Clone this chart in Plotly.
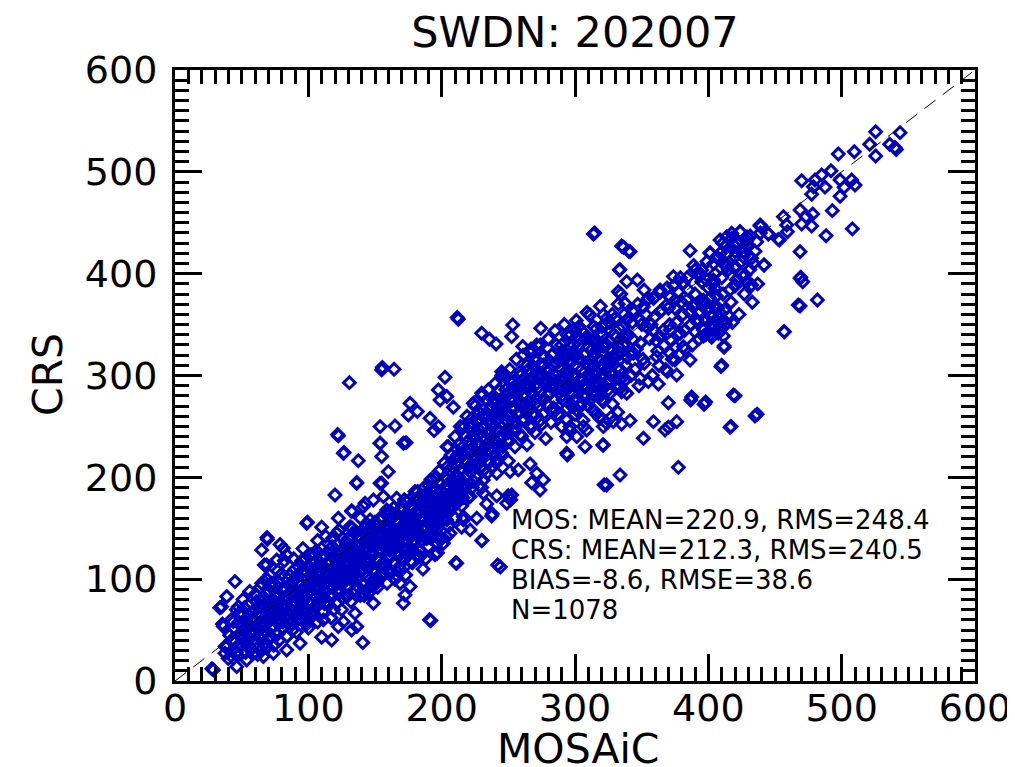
import plotly.graph_objects as go

# ---------------- data (MOSAiC, CRS) ----------------
low_edge = [(28.8,10.9),(27.7,12),(45,97.6),(35,73),(38.8,82.9),(47.5,73),(36.3,53.4),(43.8,58.3),(50,53.4),
            (38.8,33.8),(42.5,40.3),(37.5,27.2),(43.8,22.3),(46.3,14.1),(53.8,37.1),(58.8,27.2),(62.5,33.8),
            (66.3,24),(53.8,20.7),(69.3,139.2),(81.3,130.3),(83.8,123.8),(76.3,118.9),(68.8,114),(65,128.7),
            (98.8,154.9),(110,151),(120,182.7),(132.5,167.3),(136.3,194.2),(137.5,216.4),(126.3,223.6),
            (110,42.9),(117.5,40.3),(122.5,53.4),(126.3,58.3),(132.5,50.1),(93.8,37.1),(83.8,30.5),(73.8,27.2),
            (68.8,33.8),(83.8,43.6),(98.8,60),(103.8,66.5),(91.3,66.5),(111.3,60),(140.8,37.7),(136.3,53.4),
            (135,66.5),(148.8,76.3),(99.3,156),(69,141),(78.8,134),(67,114),(33.6,72),(35.6,56),(37.5,34)]

core_a = [(40,22),(41,45),(42,60),(43,30),(44,52),(45,38),(46,70),(47,25),(48,58),(49,44),
          (50,35),(50,66),(51,80),(52,48),(53,28),(54,62),(55,40),(55,75),(56,55),(57,32),
          (58,68),(59,47),(60,85),(60,58),(61,38),(62,72),(63,50),(64,92),(64,30),(65,64),
          (66,45),(67,80),(68,56),(69,100),(70,40),(70,70),(71,88),(72,52),(73,65),(74,35),
          (75,78),(75,95),(76,58),(77,46),(78,84),(79,68),(80,105),(80,52),(81,74),(82,90),
          (83,62),(84,44),(85,82),(85,100),(86,70),(87,56),(88,92),(89,78),(90,110),(90,64),
          (91,48),(92,86),(93,98),(94,72),(95,60),(95,118),(96,84),(97,104),(98,68),(99,92),
          (100,52),(100,78),(101,112),(102,96),(103,64),(104,86),(105,124),(105,100),(106,74),(107,58),
          (108,92),(109,108),(110,82),(110,130),(111,68),(112,100),(113,88),(114,116),(115,74),(115,104),
          (116,94),(117,62),(118,122),(119,84),(120,108),(120,96),(121,76),(122,134),(123,100),(124,88)]

core_b = [(125,112),(125,70),(126,96),(127,124),(128,84),(129,106),(130,140),(130,92),(131,116),(132,78),
          (133,102),(134,128),(135,90),(135,112),(136,146),(137,100),(138,120),(139,84),(140,134),(140,108),
          (141,96),(142,150),(143,118),(144,102),(145,130),(145,86),(146,112),(147,140),(148,98),(149,124),
          (150,108),(150,156),(151,132),(152,92),(153,118),(154,144),(155,104),(155,128),(156,160),(157,112),
          (158,138),(159,96),(160,150),(160,122),(161,108),(162,166),(163,134),(164,116),(165,146),(165,100),
          (166,126),(167,158),(168,112),(169,140),(170,170),(170,130),(171,118),(172,150),(173,104),(174,138),
          (175,162),(175,124),(176,178),(177,144),(178,116),(179,156),(180,134),(180,186),(181,166),(182,122),
          (183,146),(184,174),(185,138),(185,158),(186,110),(187,190),(188,150),(189,168),(190,132),(190,182),
          (191,156),(192,198),(193,142),(194,174),(195,124),(195,162),(196,188),(197,150),(198,206),(199,172)]

core_c = [(200,140),(200,186),(201,160),(202,214),(203,176),(204,198),(205,152),(205,230),(206,190),(207,170),
          (208,210),(209,182),(210,240),(210,160),(211,200),(212,222),(213,186),(214,250),(215,172),(215,208),
          (216,230),(217,194),(218,216),(219,260),(220,180),(220,236),(221,206),(222,250),(223,190),(224,222),
          (225,270),(225,238),(226,200),(227,256),(228,214),(229,232),(230,190),(230,280),(231,248),(232,220),
          (233,262),(234,204),(235,242),(235,286),(236,226),(237,268),(238,210),(239,250),(240,292),(240,232),
          (241,276),(242,218),(243,258),(244,240),(245,300),(245,224),(246,270),(247,252),(248,286),(249,236),
          (250,262),(250,216),(251,306),(252,278),(253,246),(254,294),(255,230),(255,268),(256,316),(257,252),
          (258,284),(259,300),(260,240),(260,272),(261,320),(262,256),(263,290),(264,232),(265,306),(265,270),
          (266,250),(267,326),(268,282),(269,298),(270,262),(270,244),(271,314),(272,288),(273,270),(274,330),
          (275,252),(275,300),(276,276),(277,318),(278,238),(279,292)]

core_d = [(280,270),(280,336),(281,306),(282,254),(283,288),(284,322),(285,276),(285,344),(286,300),(287,262),
          (288,314),(289,290),(290,330),(290,250),(291,276),(292,350),(293,304),(294,268),(295,320),(295,288),
          (296,246),(297,340),(298,300),(299,276),(300,318),(300,262),(301,354),(302,290),(303,330),(304,272),
          (305,306),(305,344),(306,256),(307,320),(308,290),(309,362),(310,300),(310,270),(311,336),(312,314),
          (313,282),(314,348),(315,300),(316,262),(317,326),(318,292),(319,368),(320,310),(320,276),(321,340),
          (322,300),(323,254),(324,330),(325,286),(326,352),(327,312),(328,272),(329,340),(330,296),(331,322),
          (332,264),(333,346),(334,306),(335,284),(336,330),(337,360),(338,296),(339,318)]

core_e = [(340,340),(342,300),(344,362),(346,326),(348,290),(350,350),(352,312),(354,374),(356,336),(358,300),
          (360,358),(362,324),(364,382),(366,344),(368,306),(370,366),(372,334),(374,388),(376,352),(378,320),
          (380,372),(382,344),(384,396),(386,362),(388,330),(390,380),(392,352),(394,400),(396,368),(398,340),
          (400,386),(402,358),(404,410),(406,378),(408,346),(410,396),(412,364),(414,420),(416,384),(418,352)]

core_f = [(44,40),(46,28),(48,66),(50,45),(52,72),(54,34),(56,88),(57,60),(59,40),(61,78),(62,26),(63,56),
          (65,96),(66,74),(67,36),(68,86),(70,58),(71,104),(72,44),(73,92),(74,76),(76,64),(77,108),(78,40),
          (79,96),(81,58),(82,118),(83,80),(84,66),(86,104),(87,88),(88,50),(89,120),(91,76),(92,60),(93,112),
          (94,94),(96,130),(97,72),(98,108),(99,56),(101,88),(102,124),(103,100),(104,70),(106,112),(107,138),
          (108,80),(109,96),(111,120),(112,76),(113,142),(114,104),(116,84),(117,126),(118,108),(119,70),
          (121,114),(122,96),(123,148),(124,120),(126,82),(127,104),(128,136),(129,92),(131,126),(132,104),
          (133,150),(134,116),(136,94),(137,132),(138,108),(139,160),(141,122),(142,84),(143,138),(144,116),
          (146,100),(147,126),(148,152),(149,110),(151,120),(152,144),(153,100),(154,128),(156,116),(157,150),
          (158,130),(159,108),(161,140),(162,122),(163,160),(164,132),(166,104),(167,146),(168,126),(169,168),
          (171,136),(172,112),(173,156),(174,130),(176,150),(177,118),(178,170),(179,138),(181,150),(182,180),
          (183,128),(184,160),(186,142),(187,170),(188,120),(189,156),(191,178),(192,140),(193,190),(194,158),
          (196,136),(197,176),(198,160),(199,194)]

core_g = [(202,168),(204,230),(206,206),(208,186),(211,220),(213,196),(214,234),(216,180),(218,240),(219,202),
          (221,226),(223,258),(224,196),(226,232),(228,264),(229,210),(231,240),(233,224),(234,276),(236,246),
          (238,230),(239,262),(241,214),(243,286),(244,262),(246,240),(248,300),(249,256),(251,236),(253,276),
          (254,254),(256,290),(258,264),(259,242),(261,296),(263,272),(264,310),(266,288),(268,262),(269,316),
          (271,278),(273,300),(274,256),(276,320),(278,296),(279,272),(281,290),(283,310),(284,268),(286,330),
          (288,282),(289,306),(291,320),(293,288),(294,340),(296,304),(298,282),(299,330),(301,300),(303,348),
          (304,316),(306,290),(308,336),(309,280),(311,310),(313,326),(314,290),(316,346),(318,316),(319,280),
          (321,330),(323,350),(324,306),(326,296),(328,360),(329,318),(331,338),(333,290),(334,322),(336,348),
          (338,310),(339,338)]

core_h = [(341,322),(343,352),(345,306),(347,370),(349,332),(351,316),(353,360),(355,294),(357,350),(359,376),
          (361,334),(363,310),(365,364),(367,330),(369,386),(371,350),(373,316),(375,374),(377,340),(379,396),
          (381,360),(383,326),(385,384),(387,350),(389,408),(391,370),(393,336),(395,392),(397,356),(399,412),
          (401,376),(403,346),(405,400),(407,366),(409,420),(411,380),(413,350),(415,404),(417,372),(419,428),
          (421,394),(423,360),(425,412),(427,380),(429,436),(431,404),(433,372),(435,422),(437,390),(439,440)]

core_i = [(52,44),(54,57),(57,49),(58,61),(61,52),(62,66),(65,56),(66,71),(69,60),(70,78),(72,63),(75,71),
          (76,86),(78,66),(81,80),(82,92),(84,74),(87,86),(88,98),(91,82),(92,104),(95,90),(96,78),(99,100),
          (100,112),(103,94),(104,116),(107,104),(108,90),(111,110),(112,124),(114,98),(116,118),(118,132),
          (120,112),(122,102),(124,126),(126,140),(128,116),(130,106),(132,132),(134,146),(136,122),(138,112),
          (140,140),(142,128),(144,154),(146,120),(148,136),(150,146),(152,128),(154,160),(156,138),(158,150),
          (160,132),(162,146),(164,170),(166,140),(168,156),(170,146),(172,178),(174,160),(176,142),(178,168),
          (180,152),(182,186),(184,166),(186,150),(188,176),(190,162),(192,188),(194,168),(196,200),(198,178),
          (200,164),(202,190),(204,210),(206,176),(208,198),(210,186),(212,212),(214,198),(216,222),(218,192),
          (220,210),(222,232),(224,208),(226,218),(228,242),(230,226),(232,208),(234,232),(236,256),(238,240),
          (240,222),(242,246),(244,270),(246,230),(248,256),(250,244),(252,268),(254,284),(256,246),(258,272),
          (260,256),(262,282),(264,264),(266,296),(268,250),(270,272),(272,298),(274,284),(276,262),(278,306),
          (280,282),(282,298),(284,264),(286,312),(288,296),(290,280),(292,318),(294,300),(296,272),(298,322),
          (300,290),(302,308),(304,336),(306,280),(308,312),(310,328),(312,298),(314,336),(316,282),(318,316),
          (320,348),(322,290),(324,314),(326,334),(328,302),(330,356),(332,320),(334,296),(336,338)]

core_j = [(58,50),(60,70),(63,44),(64,80),(67,62),(68,48),(71,66),(72,96),(74,54),(76,82),(79,58),(80,90),
          (82,70),(85,60),(86,94),(88,74),(90,100),(93,80),(94,66),(97,88),(98,120),(101,76),(102,104),(105,90),
          (106,128),(109,86),(110,114),(113,96),(114,78),(117,100),(118,140),(121,88),(122,124),(125,104),
          (126,130),(129,114),(130,84),(133,122),(134,98),(137,142),(138,126),(141,110),(142,136),(145,120),
          (146,148),(149,134),(150,98),(153,140),(154,112),(157,132),(158,164),(161,128),(162,106),(165,138),
          (166,164),(169,124),(170,152),(173,140),(174,176),(177,160),(178,128),(181,144),(182,168),(185,150),
          (186,176),(189,140),(190,192),(193,170),(194,150),(197,184),(198,166),(201,180),(203,200),(205,170),
          (207,222),(209,196),(211,178),(213,232),(215,196),(217,250),(219,214),(221,194),(223,240),(225,212),
          (227,248),(229,222),(231,260),(233,238),(235,214),(237,252),(239,276),(241,256),(243,230),(245,264),
          (247,244),(249,280)]

mid_scatter = [(212.5,355.2),(230,341.5),(235.8,335.6),(240.8,331),(253.3,349.7),(252.5,338.2),(260.8,328.4),
               (266.8,321.8),(274.3,346.4),(271.3,330),(300,344.1),(310.8,359.5),(296.3,329),(291.3,314.6),
               (282.5,320.2),(276.3,310.4),(281.3,298.9),(321.3,359.5),(318.8,341.5),(321.3,328.4),(130.8,293),
               (155,305.5),(164.3,306.1),(202.5,298.3),(176.3,272.7),(181.8,264.6),(175,261.3),(197.5,285.8),
               (198.8,276),(203.8,279.3),(208.8,268.8),(191.3,258),(197.5,249.8),(194.3,245.9),(153.8,249.8),
               (165,250.5),(153.8,233.5),(173.3,234.1),(122.5,240.7),(126.8,224.3),(136.3,194.9),
               (155,220.4),(155,194.2),(160,205.6),(148.8,177.8),(141.3,171.3),(132.5,166.4),(122.5,159.8),
               (131.3,151.6),(230,282.6),(223.8,272.7),(231.3,266.2),(227.5,256.4),(238.8,272.7),(242.5,262.9),
               (246.3,274.4),(245,303.8),(251.3,294),(258.8,303.8),(263.8,292.4),(253.3,287.5),(268.8,308.7),
               (276.3,292.4),(281.3,282.6),(288.8,287.5),(296.3,292.4),(306.3,295.6),(313.8,302.2),(318.8,285.8),
               (311.3,276),(301.3,266.2),(296.3,249.8),(306.3,249.8),(313.8,266.2),(318.8,259.6),(320.8,231.8),
               (294.3,222),(321.8,192.6),(266.3,213.2),(271.3,204),(276.3,197.5),(267.5,194.8),(273.8,187.6),
               (252.5,182.7),(248.8,174.5),(237.5,162.1),(230,137.9),(216.3,223.6),(221.3,210.6),(212.5,200.7),
               (231.3,197.5),(241.3,204),(251.3,205.7),(257.5,207.3),(203.8,177.8),(211.3,174.5),(221.3,181.1),
               (231.3,184.4),(241.3,181.8),(233.8,173.9),(193.8,164.7),(201.3,158.2),(191.3,145.1),(198.8,138.5),
               (206.3,145.1),(216.3,158.2),(221.3,148.4),(226.3,159.8),(173.8,164.7),(181.3,154.9),(173.8,145.1),
               (179.3,138.5),(166.3,141.2),(161.3,151.6),(146.3,158.2),(141.3,145.1),(131.3,138.5),(121.3,145.1),
               (156.3,138.5),(153.8,233.4),(171.3,233.4),(153.8,194.2),(156.3,181.1),(142.5,174.5),(211.3,115.6),
               (191.8,59.3),(171.3,76.3),(172.5,84.5),(168.8,96),(176.3,92.7),(151.3,96),(156.3,105.8),(146.3,92.7),
               (141.3,86.1),(161.3,109.1),(171.3,118.9),(176.3,127.1),(183.8,122.1),(196.3,125.4),(201.3,135.2),
               (203.8,141.8),(215,151),(216.3,161.4),(196.3,154.9),(203.8,158.2),(208.8,171.3),(201.3,177.8),
               (211.3,181.1),(216.3,190.9),(171.3,161.4),(176.3,171.2),(166.3,179.4),(158.8,168),(186.3,181.1),
               (148.8,148.3),(156.3,138.5),(143.8,132),(163.8,138.5),(171.3,145.1),(181.3,151.6),
               (190.9,60.1),(244,112),(242,114),(210.5,116.1),(230.2,138),(238,164),(249.9,182),(251.8,178),
               (196.8,126),(211.7,357),(155.5,308),(122,242)]

upper_scatter = [(313.8,439),(335,427.2),(341.3,421.6),(386.3,422.6),(401.3,420.6),(406.3,416.7),(411.3,410.2),
                 (417.5,439.6),(423.8,441.2),(428.8,432.4),(438.8,446.8),(445,439),(452.5,433.7),(458.8,447.8),
                 (408.8,433),(413.8,428.2),(420,421.6),(426.3,421.6),(432.5,415.1),(413.8,406.9),(420,406.9),
                 (427.5,398.7),(433.8,410.2),(441.8,408.5),(432.5,388.9),(420,388.9),(468.8,395.4),(467.5,369.2),
                 (456.8,343.1),(333.3,403.6),(338.8,392.2),(332.5,382.3),(337.5,370.9),(346.8,393.8),(351.8,384),
                 (355,375.8),(373.8,397.1),(381.3,391.2),(390,403.6),(393.3,397.7),(398.8,393.8),(403.8,390.5),
                 (363.8,384),(371.3,376.8),(377.5,382.3),(383.8,374.2),(368.8,369.2),(375,366),(358.8,375.8),
                 (363.8,362.7),(388.8,367.6),(395,370.9),(400,365),(405,369.2),(409.3,361),(415.8,357.8),
                 (391.3,354.5),(398.8,354.5),(405,348),(411.3,354.5),(390,343),(396.3,338.8),(402.5,337.5),
                 (407.5,341.4),(411.8,327.7),(409.5,308.7),(418.8,280.9),(435,260.3),(416.3,249.1),(396.8,271.7),
                 (386.8,276),(370,273.3),(376.3,254.7),(370,249.1),(367.5,246.5),(358.8,254.7),(351.3,238.3),
                 (377.5,209.8),(321.3,231.8),(333.8,202.3),(323.8,192.5),(348.8,297.2),(362.5,291.7),
                 (361.3,318.5),(371.3,321.8),(376.3,300.5),(369.3,303.8),(386.3,315.2),(375,315.2),
                 (341.3,255.7),(335,252.4),(328.8,254.7),(321.3,249.8),(299.3,344.7),(311.3,359.4),(323.8,356.2),
                 (295.8,315.2),(293.8,223.6),(301.3,240),(308.8,246.5),(321.3,274.3),(327.5,259.6),(313.8,282.5),
                 (303.8,269.4),(293.8,256.3),(338.8,282.5),(333.8,295.6),(331.3,307.1),(325,316.9),(332.5,328.3),
                 (343.8,321.8),(343.8,334.9),(353.8,347.9),(348.8,354.5),(338.8,354.5),(358.8,344.7),(363.8,338.2),
                 (371.3,344.7),(378.8,341.4),(381.3,328.3),(375,328.3),(351.3,367.6),(343.8,364.3),(313.8,308.7),
                 (303.8,295.6),(296.3,289),(318.8,298.9),(326.3,282.5),(308.8,338.2),(317.5,328.3),(313.8,318.5),
                 (323.8,312),(303.8,315.2),(291.3,298.9),(291.3,321.8),(298.8,269.4),(293.8,240),(307.5,230.1),
                 (318.8,258),(314.8,440),(336.4,425.9),(340.3,421.9),(332.4,370),(334.4,380),(333.6,404),
                 (436.6,262),(417,250),(420,280),(398,274),(387.5,279),(410,310)]

top_scatter = [(525.5,539.4),(543.8,538.5),(540,524),(536,527),(541,522),(521,527),(525.5,515.6),(509.5,519.8),
               (497.5,517.5),(470,491.3),(480,492),(478.8,485.4),(485,497),(492,501),(487.5,485),(477.5,478),
               (498.8,492),(501.8,484.8),(507.5,492),(510,487),(498.8,476),(493,461.9),(508,444),(488.3,437.3),
               (468.8,462.5),(473.3,456),(478.3,458.6),(470,448.8),(477.5,446.8),(456.3,456),(459.3,441.2),
               (453.3,433),(468.8,421.6),(469.3,396.5),(470.8,392),(468.8,368.3),(481.8,374.2),(457,343),
               (438.8,447.8),(439.5,446.8),(445,439),(436.3,431.4),(431.3,437),(423.8,441.2),(417.5,434.7),
               (410.8,429.8),(413.8,436.3),(428.8,428.2),(421.3,429.8),(401.3,420),(406.3,416),(413.3,409.5),
               (420,405.2),(420,416.6),(426.3,416.6),(433.8,410.1),(441.8,408.5),(426.3,397),(431.3,387.2),
               (428.8,392.1),(420,387.8),(403.8,393.8),(405,385.6),(395,403.6),(396.3,374),(400,367),(405,367),
               (407.5,357),(415.8,357.8),(408.8,348),(401.3,339.8),(411.3,338.8),(411.8,329),(396.3,344.7)]

one_to_one = [0, 600]

stats_lines = ["MOS: MEAN=220.9, RMS=248.4",
               "CRS: MEAN=212.3, RMS=240.5",
               "BIAS=-8.6, RMSE=38.6",
               "N=1078"]

groups = [low_edge, core_a, core_b, core_c, core_d, core_e, core_f, core_g, core_h, core_i, core_j,
          mid_scatter, upper_scatter, top_scatter]
mos = [p[0] for g in groups for p in g]
crs = [p[1] for g in groups for p in g]

BLUE = "#0000C0"
FONT = "DejaVu Sans"

# The page body adds an 8 px offset; target geometry is given in page pixels.
OFF = 8
W, H = 1015, 767
PL, PT, PR, PB = 175, 70, 975, 681          # plot area in page pixels
L, T = PL - OFF, PT - OFF
R, B = W - (PR - OFF), H - (PB - OFF)
PW, PH = PR - PL, PB - PT


def px_to_paper_x(px):
    return (px - PL) / PW


def px_to_paper_y(py):
    return (PB - py) / PH


fig = go.Figure()
fig.add_trace(go.Scatter(
    x=mos, y=crs, mode="markers",
    marker=dict(symbol="diamond-open", size=9, color=BLUE, line=dict(width=3, color=BLUE)),
    hoverinfo="skip", showlegend=False))
fig.add_trace(go.Scatter(
    x=one_to_one, y=one_to_one, mode="lines",
    line=dict(color="black", width=1, dash="14px,9px"),
    hoverinfo="skip", showlegend=False))

axis_common = dict(
    range=[0, 600], tick0=0, dtick=100, ticks="inside", ticklen=27, tickwidth=3, tickcolor="black",
    showline=True, linewidth=3, linecolor="black", mirror="allticks",
    showgrid=False, zeroline=False, automargin=False,
    tickfont=dict(family=FONT, size=38, color="black"),
    minor=dict(dtick=10, ticks="inside", ticklen=14, tickwidth=2.5, tickcolor="black", showgrid=False),
)

fig.update_layout(
    width=W, height=H,
    margin=dict(l=L, r=R, t=T, b=B, autoexpand=False),
    paper_bgcolor="white", plot_bgcolor="white",
    title=dict(text="SWDN: 202007", x=0.5, xref="paper", y=1 - (32 - OFF) / H, yref="container",
               xanchor="center", yanchor="middle", automargin=False,
               font=dict(family=FONT, size=43, color="black")),
    xaxis=dict(**axis_common, ticklabelstandoff=-9),
    yaxis=dict(**axis_common, ticklabelstandoff=7),
    showlegend=False,
)

# axis titles
fig.add_annotation(text="MOSAiC", xref="paper", yref="paper", x=px_to_paper_x(578), y=px_to_paper_y(749),
                   xanchor="center", yanchor="middle", showarrow=False,
                   font=dict(family=FONT, size=41, color="black"))
fig.add_annotation(text="CRS", xref="paper", yref="paper", x=px_to_paper_x(48), y=px_to_paper_y(375),
                   xanchor="center", yanchor="middle", textangle=-90, showarrow=False,
                   font=dict(family=FONT, size=41, color="black"))

# statistics block
for i, line in enumerate(stats_lines):
    fig.add_annotation(text=line, xref="paper", yref="paper", x=px_to_paper_x(509),
                       y=px_to_paper_y(520 + 30 * i), xanchor="left", yanchor="middle",
                       align="left", showarrow=False,
                       font=dict(family=FONT, size=26, color="black"))

fig.write_html("out.html")
